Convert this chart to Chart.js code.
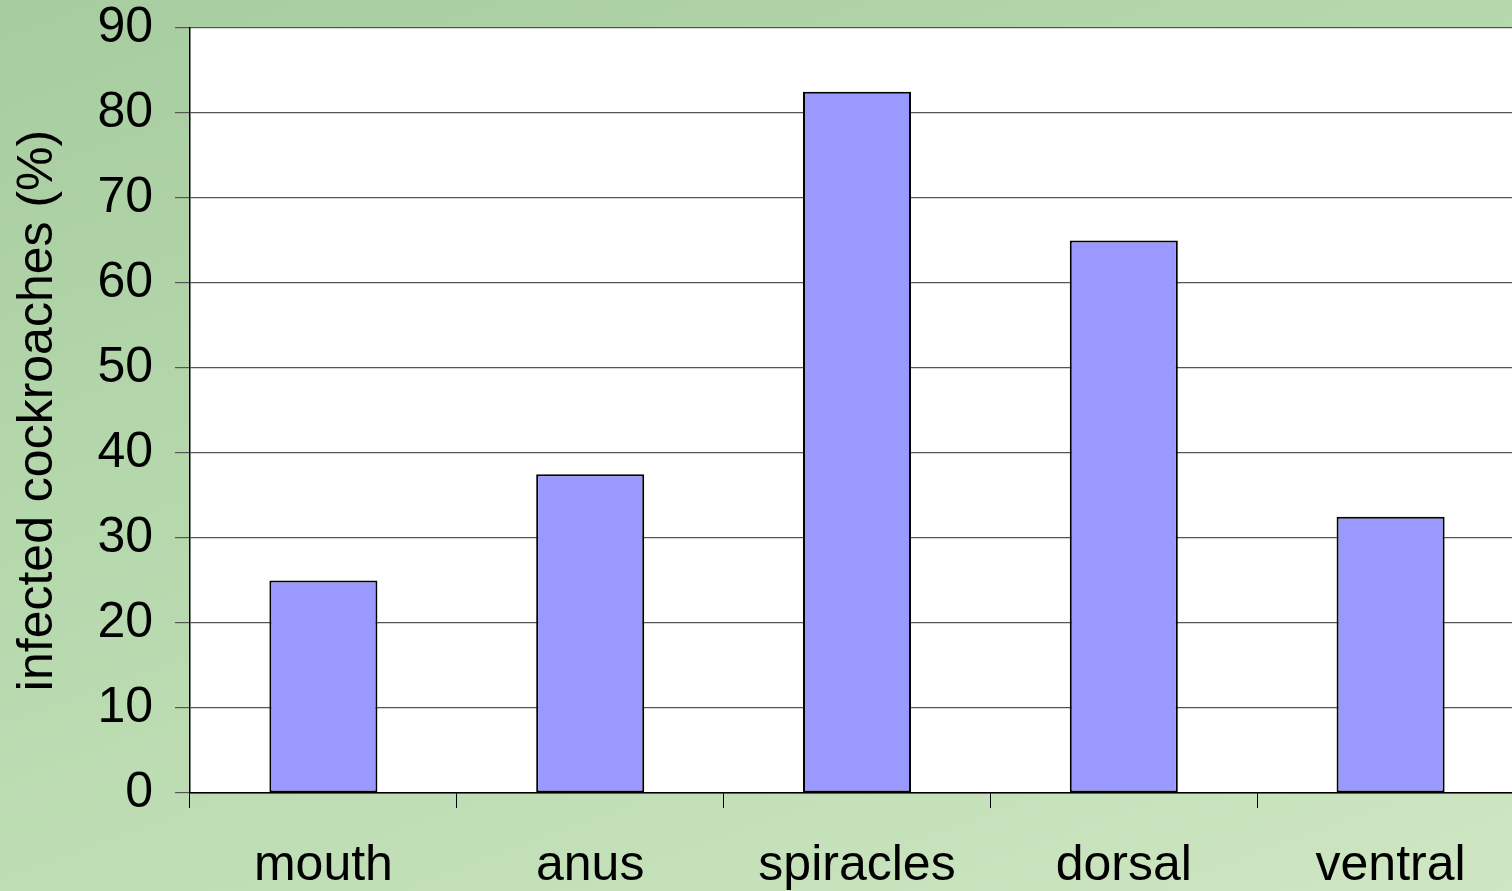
<!DOCTYPE html>
<html>
<head>
<meta charset="utf-8">
<script src="https://cdn.jsdelivr.net/npm/chart.js@4.4.1/dist/chart.umd.min.js"></script>
<style>
  html, body { margin: 0; padding: 0; overflow: hidden; }
  body {
    width: 1512px; height: 891px;
    background: linear-gradient(160deg, #a6cc9f 0%, #b6d8ad 40%, #c3e0b8 75%, #cfe6c3 100%);
  }
  #wrap { position: absolute; left: 0; top: -24px; width: 1524px; height: 915px; }
</style>
</head>
<body>
<div id="wrap"><canvas id="bodyChart"></canvas></div>
<script>
let sites = ['mouth', 'anus', 'spiracles', 'dorsal', 'ventral'];
let infected = [25, 37.5, 82.5, 65, 32.5];
let yTicks = [0, 10, 20, 30, 40, 50, 60, 70, 80, 90];

// white plot area on the green background
let plotBg = {
    id : 'plotBg',
    beforeDraw(chart){
        let a = chart.chartArea;
        let ctx = chart.ctx;
        ctx.save();
        ctx.fillStyle = '#ffffff';
        ctx.fillRect(a.left, a.top, a.right - a.left, a.bottom - a.top);
        ctx.restore();
    }
}

let config = {
    type : 'bar',
    data : {
        labels : sites,
        datasets : [{
            data : infected,
            backgroundColor : '#9999ff',
            borderColor : '#000000',
            borderWidth : 2,
            borderSkipped : false,
            barPercentage : 0.405,
            categoryPercentage : 1
        }]
    },
    options : {
        responsive : true,
        maintainAspectRatio : false,
        animation : false,
        layout : { padding : 0 },
        plugins : {
            legend : { display : false },
            tooltip : { enabled : false }
        },
        scales : {
            x : {
                offset : true,
                afterFit(scale){ scale.height = 98; },
                grid : {
                    offset : true,
                    drawOnChartArea : false,
                    drawTicks : true,
                    tickLength : 15,
                    color : '#000000'
                },
                border : { color : '#000000', width : 1.5 },
                ticks : {
                    color : '#000000',
                    padding : 28,
                    maxRotation : 0,
                    font : { family : 'Liberation Sans', size : 50 }
                }
            },
            y : {
                min : 0,
                max : 90,
                afterFit(scale){ scale.width = 190; },
                afterBuildTicks(scale){ scale.ticks = yTicks.map(v => ({ value : v })); },
                grid : {
                    color : '#555555',
                    lineWidth : 1.2,
                    tickLength : 15
                },
                border : { color : '#000000', width : 1.5 },
                ticks : {
                    color : '#000000',
                    padding : 22,
                    font : { family : 'Liberation Sans', size : 50 }
                },
                title : {
                    display : true,
                    text : 'infected cockroaches (%)',
                    color : '#000000',
                    padding : { top : 8, bottom : 10 },
                    font : { family : 'Liberation Sans', size : 50, weight : 'normal' }
                }
            }
        }
    },
    plugins : [plotBg]
}

let chart = new Chart(document.getElementById('bodyChart'), config);
</script>
</body>
</html>
